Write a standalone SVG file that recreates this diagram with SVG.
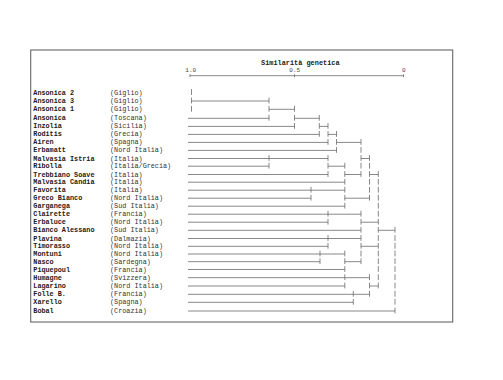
<svg xmlns="http://www.w3.org/2000/svg" width="503" height="380" viewBox="0 0 503 380">
<style>
.n{font-family:"Liberation Mono","DejaVu Sans Mono",monospace;font-size:6.8px;font-weight:bold;fill:#1a1a1a}
.c{font-family:"Liberation Mono","DejaVu Sans Mono",monospace;font-size:6.8px;fill:#333}
.t{font-family:"Liberation Mono","DejaVu Sans Mono",monospace;font-size:6.9px;font-weight:bold;fill:#222;text-anchor:middle}
.a{font-family:"Liberation Mono","DejaVu Sans Mono",monospace;font-size:6px;fill:#444;text-anchor:middle}
.h{stroke:#6a6a6a;stroke-width:0.8;fill:none}
.p{stroke:#6a6a6a;stroke-width:0.8;fill:none}
</style>
<rect width="503" height="380" fill="#fff"/>
<rect id="frame" x="30.7" y="50" width="422" height="272" fill="none" stroke="#666" stroke-width="1.1"/>
<g id="axis">
<text class="t" x="300.3" y="64.6">Similarità genetica</text>
<text class="a" x="190.7" y="71.6">1.0</text>
<text class="a" x="294.7" y="71.6">0.5</text>
<text class="a" x="403.7" y="71.6">0</text>
<path class="h" d="M190 75.7H404M190 74.2v3M294.5 74.2v3M403.5 74.2v3"/>
</g>
<g id="labels">
<g id="n0"><text class="n" x="33.3" y="94.5">Ansonica 2</text><text class="c" x="110" y="94.5">(Giglio)</text></g>
<g id="n1"><text class="n" x="33.3" y="103">Ansonica 3</text><text class="c" x="110" y="103">(Giglio)</text></g>
<g id="n2"><text class="n" x="33.3" y="111.3">Ansonica 1</text><text class="c" x="110" y="111.3">(Giglio)</text></g>
<g id="n3"><text class="n" x="33.3" y="120.3">Ansonica</text><text class="c" x="110" y="120.3">(Toscana)</text></g>
<g id="n4"><text class="n" x="33.3" y="128.4">Inzolia</text><text class="c" x="110" y="128.4">(Sicilia)</text></g>
<g id="n5"><text class="n" x="33.3" y="136.4">Roditis</text><text class="c" x="110" y="136.4">(Grecia)</text></g>
<g id="n6"><text class="n" x="33.3" y="144.4">Airen</text><text class="c" x="110" y="144.4">(Spagna)</text></g>
<g id="n7"><text class="n" x="33.3" y="152.4">Erbamatt</text><text class="c" x="110" y="152.4">(Nord Italia)</text></g>
<g id="n8"><text class="n" x="33.3" y="160.5">Malvasia Istria</text><text class="c" x="110" y="160.5">(Italia)</text></g>
<g id="n9"><text class="n" x="33.3" y="168.2">Ribolla</text><text class="c" x="110" y="168.2">(Italia/Grecia)</text></g>
<g id="n10"><text class="n" x="33.3" y="176.5">Trebbiano Soave</text><text class="c" x="110" y="176.5">(Italia)</text></g>
<g id="n11"><text class="n" x="33.3" y="184.2">Malvasia Candia</text><text class="c" x="110" y="184.2">(Italia)</text></g>
<g id="n12"><text class="n" x="33.3" y="192.2">Favorita</text><text class="c" x="110" y="192.2">(Italia)</text></g>
<g id="n13"><text class="n" x="33.3" y="200.2">Greco Bianco</text><text class="c" x="110" y="200.2">(Nord Italia)</text></g>
<g id="n14"><text class="n" x="33.3" y="208.2">Garganega</text><text class="c" x="110" y="208.2">(Sud Italia)</text></g>
<g id="n15"><text class="n" x="33.3" y="216.2">Clairette</text><text class="c" x="110" y="216.2">(Francia)</text></g>
<g id="n16"><text class="n" x="33.3" y="224.2">Erbaluce</text><text class="c" x="110" y="224.2">(Nord Italia)</text></g>
<g id="n17"><text class="n" x="33.3" y="232.3">Bianco Alessano</text><text class="c" x="110" y="232.3">(Sud Italia)</text></g>
<g id="n18"><text class="n" x="33.3" y="240.5">Plavina</text><text class="c" x="110" y="240.5">(Dalmazia)</text></g>
<g id="n19"><text class="n" x="33.3" y="248.3">Timorasso</text><text class="c" x="110" y="248.3">(Nord Italia)</text></g>
<g id="n20"><text class="n" x="33.3" y="256">Montuni</text><text class="c" x="110" y="256">(Nord Italia)</text></g>
<g id="n21"><text class="n" x="33.3" y="263.7">Nasco</text><text class="c" x="110" y="263.7">(Sardegna)</text></g>
<g id="n22"><text class="n" x="33.3" y="271.5">Piquepoul</text><text class="c" x="110" y="271.5">(Francia)</text></g>
<g id="n23"><text class="n" x="33.3" y="279.7">Humagne</text><text class="c" x="110" y="279.7">(Svizzera)</text></g>
<g id="n24"><text class="n" x="33.3" y="288">Lagarino</text><text class="c" x="110" y="288">(Nord Italia)</text></g>
<g id="n25"><text class="n" x="33.3" y="296.3">Folle B.</text><text class="c" x="110" y="296.3">(Francia)</text></g>
<g id="n26"><text class="n" x="33.3" y="304.3">Xarello</text><text class="c" x="110" y="304.3">(Spagna)</text></g>
<g id="n27"><text class="n" x="33.3" y="313">Bobal</text><text class="c" x="110" y="313">(Croazia)</text></g>
</g>
<g id="connectors">
<path class="h" d="
M191.5 101H269
M269 109.3H294.5
M188 118.3H269M294.5 118.3H319.3
M188 126.4H294.5M319.3 126.4H328
M188 134.4H319.3M328 134.4H336.5
M188 142.4H328M336.5 142.4H361
M188 150.4H336.5
M188 158.5H328M361 158.5H369.5
M188 166.2H269M328 166.2H344.8
M188 174.5H328M344.8 174.5H361M369.5 174.5H378.3
M188 182.2H344.8
M188 190.2H344.8
M188 198.2H311M344.8 198.2H369.5
M188 206.2H344.8
M188 214.2H361
M188 222.2H328M361 222.2H378.3
M188 230.3H361M378.3 230.3H395
M188 238.5H361
M188 246.3H328M361 246.3H378.3
M188 254H344.8
M188 261.7H320M344.8 261.7H361
M188 269.5H344.8
M188 277.7H369.5
M188 286H344.8M369.5 286H378.3
M188 294.3H369.5
M188 302.3H353.3
M188 311H395"/>
<path class="p" d="
M191.5 89.1v5.8
M191.5 97.6v5.8M269 97.6v5.8
M191.5 105.9v5.8M269 105.9v5.8M294.5 105.9v5.8
M269 114.9v5.8M294.5 114.9v5.8M319.3 114.9v5.8
M294.5 123v5.8M319.3 123v5.8M328 123v5.8
M319.3 131v5.8M328 131v5.8M336.5 131v5.8
M328 139v5.8M336.5 139v5.8M361 139v5.8
M336.5 147v5.8M361 147v5.8
M269 155.1v5.8M328 155.1v5.8M361 155.1v5.8M369.5 155.1v5.8
M269 162.8v5.8M328 162.8v5.8M344.8 162.8v5.8M361 162.8v5.8M369.5 162.8v5.8
M328 171.1v5.8M344.8 171.1v5.8M361 171.1v5.8M369.5 171.1v5.8M378.3 171.1v5.8
M344.8 178.8v5.8M369.5 178.8v5.8M378.3 178.8v5.8
M311 186.8v5.8M344.8 186.8v5.8M369.5 186.8v5.8M378.3 186.8v5.8
M311 194.8v5.8M344.8 194.8v5.8M369.5 194.8v5.8M378.3 194.8v5.8
M344.8 202.8v5.8M378.3 202.8v5.8
M328 210.8v5.8M361 210.8v5.8M378.3 210.8v5.8
M328 218.8v5.8M361 218.8v5.8M378.3 218.8v5.8
M361 226.9v5.8M378.3 226.9v5.8M395 226.9v5.8
M328 235.1v5.8M361 235.1v5.8M378.3 235.1v5.8M395 235.1v5.8
M328 242.9v5.8M361 242.9v5.8M378.3 242.9v5.8M395 242.9v5.8
M320 250.6v5.8M344.8 250.6v5.8M361 250.6v5.8M378.3 250.6v5.8M395 250.6v5.8
M320 258.3v5.8M344.8 258.3v5.8M361 258.3v5.8M378.3 258.3v5.8M395 258.3v5.8
M344.8 266.1v5.8M378.3 266.1v5.8M395 266.1v5.8
M344.8 274.3v5.8M369.5 274.3v5.8M378.3 274.3v5.8M395 274.3v5.8
M344.8 282.6v5.8M369.5 282.6v5.8M378.3 282.6v5.8M395 282.6v5.8
M353.3 290.9v5.8M369.5 290.9v5.8M395 290.9v5.8
M353.3 298.9v5.8M395 298.9v5.8
M395 307.6v5.8"/>
</g>
</svg>
